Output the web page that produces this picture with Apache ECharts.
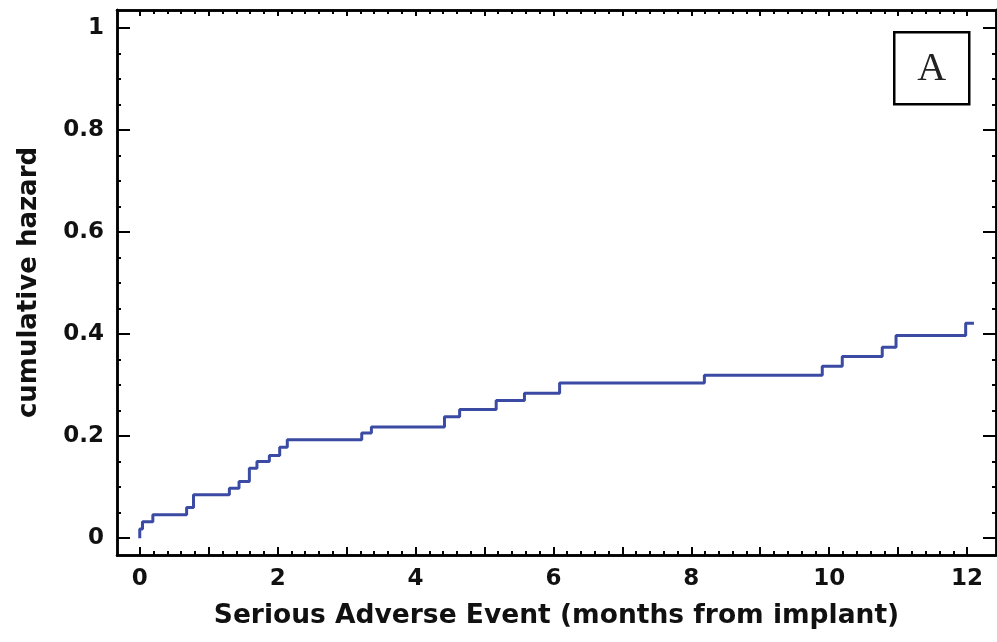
<!DOCTYPE html>
<html>
<head>
<meta charset="utf-8">
<script src="https://cdn.jsdelivr.net/npm/echarts@6/dist/echarts.min.js"></script>
<style>
  html, body { margin: 0; padding: 0; background: #fff; }
  #chart { width: 997px; height: 642px; }
</style>
</head>
<body>
<div id="chart"></div>
<script>
// Event times (months from implant) and cumulative hazard after each event
const eventMonths = [0, 0, 0.04, 0.19, 0.68, 0.78, 1.30, 1.44, 1.59, 1.70, 1.88, 2.03, 2.14,
  3.22, 3.36, 4.42, 4.64, 5.17, 5.58, 6.09, 8.19, 9.90, 10.19, 10.77, 10.97, 11.98, 12.10];
const cumHazard = [0, 0.018, 0.032, 0.046, 0.060, 0.085, 0.098, 0.111, 0.137, 0.150, 0.162, 0.178, 0.193,
  0.206, 0.218, 0.238, 0.252, 0.270, 0.284, 0.304, 0.319, 0.337, 0.356, 0.374, 0.397, 0.421, 0.421];

// Tick positions
const xLabelTicks = [0, 2, 4, 6, 8, 10, 12];
const xMajorTicks = [0, 1, 2, 3, 4, 5, 6, 7, 8, 9, 10, 11, 12];
const xMinorTicks = [];
for (let i = 0; i <= 60; i++) xMinorTicks.push(+(i * 0.2).toFixed(2));
const yLabelTicks = [0, 0.2, 0.4, 0.6, 0.8, 1];
const yMinorTicks = [];
for (let i = 0; i <= 20; i++) yMinorTicks.push(+(i * 0.05).toFixed(2));

const X_MIN = -0.33, X_MAX = 12.42;
const Y_MIN = -0.033, Y_MAX = 1.035;

const labelFont = { fontFamily: 'DejaVu Sans', fontWeight: 'bold', fontSize: 23, color: '#111' };
const lineStyle = { color: '#000', width: 2.5 };

function xAxisDef(position, ticks, len, showLabel, extra) {
  return Object.assign({
    type: 'value', position: position, min: X_MIN, max: X_MAX,
    axisLine: { show: true, onZero: false, lineStyle: lineStyle },
    axisTick: { show: true, inside: true, length: len, customValues: ticks,
      lineStyle: { color: '#000', width: 2 } },
    axisLabel: showLabel
      ? Object.assign({ show: true, customValues: xLabelTicks, margin: 13 }, labelFont)
      : { show: false },
    splitLine: { show: false }
  }, extra || {});
}
function yAxisDef(position, ticks, len, showLabel, extra) {
  return Object.assign({
    type: 'value', position: position, min: Y_MIN, max: Y_MAX,
    axisLine: { show: true, onZero: false, lineStyle: lineStyle },
    axisTick: { show: true, inside: true, length: len, customValues: ticks,
      lineStyle: { color: '#000', width: 2 } },
    axisLabel: showLabel
      ? Object.assign({ show: true, customValues: yLabelTicks, margin: 13,
          formatter: v => String(+v.toFixed(1)) }, labelFont)
      : { show: false },
    splitLine: { show: false }
  }, extra || {});
}

const chart = echarts.init(document.getElementById('chart'), null, { renderer: 'canvas' });
chart.setOption({
  animation: false,
  backgroundColor: '#fff',
  grid: { left: 117, right: 1, top: 10, bottom: 87, containLabel: false },
  xAxis: [
    xAxisDef('bottom', xMajorTicks, 8, true, {
      name: 'Serious Adverse Event (months from implant)',
      nameLocation: 'middle', nameGap: 48,
      nameTextStyle: { fontFamily: 'DejaVu Sans', fontWeight: 'bold', fontSize: 26.5, color: '#111' }
    }),
    xAxisDef('bottom', xMinorTicks, 4, false),
    xAxisDef('top', xMajorTicks, 6, false),
    xAxisDef('top', xMinorTicks, 4, false)
  ],
  yAxis: [
    yAxisDef('left', yLabelTicks, 13, true, {
      name: 'cumulative hazard',
      nameLocation: 'middle', nameGap: 75, nameRotate: 90,
      nameTextStyle: { fontFamily: 'DejaVu Sans', fontWeight: 'bold', fontSize: 26, color: '#111' }
    }),
    yAxisDef('left', yMinorTicks, 4, false),
    yAxisDef('right', yLabelTicks, 13, false),
    yAxisDef('right', yMinorTicks, 4, false)
  ],
  series: [{
    type: 'line',
    xAxisIndex: 0, yAxisIndex: 0,
    step: 'end',
    showSymbol: false,
    symbol: 'none',
    lineStyle: { color: '#3b4ba3', width: 3 },
    data: eventMonths.map((m, i) => [m, cumHazard[i]])
  }],
  graphic: [{
    type: 'group',
    left: 893, top: 31,
    children: [
      { type: 'rect', shape: { x: 0, y: 0, width: 75, height: 72 },
        style: { fill: '#fff', stroke: '#000', lineWidth: 2.5 } },
      { type: 'text', x: 37.5, y: 37,
        style: { text: 'A', fontFamily: 'Liberation Serif', fontSize: 40, fill: '#222',
          align: 'center', verticalAlign: 'middle' } }
    ]
  }]
});
</script>
</body>
</html>
